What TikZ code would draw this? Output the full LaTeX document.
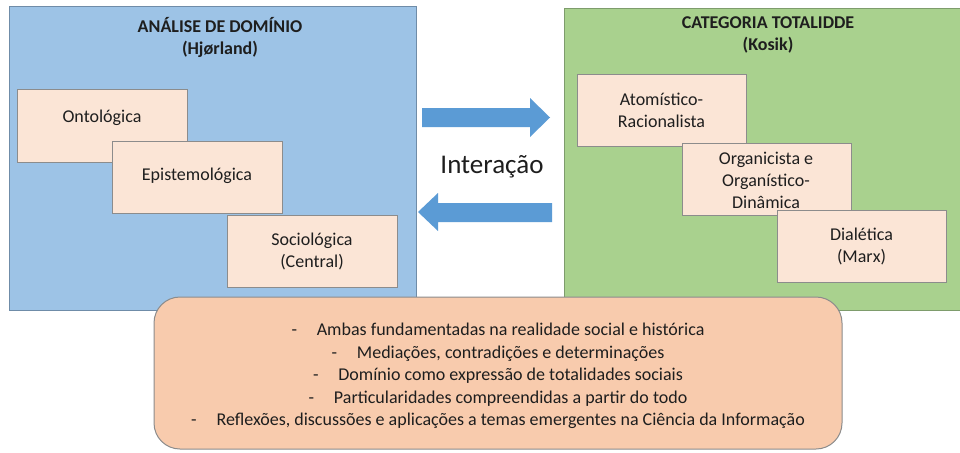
\documentclass[tikz,border=0pt]{standalone}
\usepackage{fontspec}
\setmainfont{Carlito}
\usetikzlibrary{positioning}
\definecolor{bluebg}{HTML}{9DC3E6}
\definecolor{blueedge}{HTML}{6F8CA8}
\definecolor{greenbg}{HTML}{A9D18E}
\definecolor{greenedge}{HTML}{7E9C6C}
\definecolor{innerbg}{HTML}{FBE5D6}
\definecolor{inneredge}{HTML}{8C8C8C}
\definecolor{bottombg}{HTML}{F8CBAD}
\definecolor{arrowblue}{HTML}{5B9BD5}
\definecolor{txt}{HTML}{1E1E1E}
\begin{document}
\begin{tikzpicture}[x=1pt,y=-1pt,
  panelbox/.style={draw, line width=1pt, inner sep=0pt},
  innerbox/.style={draw=inneredge, fill=innerbg, line width=1pt, inner sep=0pt},
  boxtext/.style={text=txt, align=center, font=\fontsize{18}{22}\selectfont, inner sep=0pt},
  titletext/.style={text=txt, align=center, font=\fontsize{18}{22}\selectfont\bfseries, inner sep=0pt},
  blockarrow/.style={fill=arrowblue, draw=none}]
\useasboundingbox (0,0) rectangle (960,452);
\fill[white] (0,0) rectangle (960,452);

% left panel
\node[panelbox, draw=blueedge, fill=bluebg, minimum width=407pt, minimum height=303pt] (left) at (212.5,158.5) {};
\node[titletext] (lefttitle) at (220,37) {ANÁLISE DE DOMÍNIO\\(Hjørland)};

% right panel
\node[panelbox, draw=greenedge, fill=greenbg, minimum width=400pt, minimum height=301pt] (right) at (764,159.5) {};
\node[titletext] (righttitle) at (768,35) {CATEGORIA TOTALIDDE\\(Kosik)};

% left inner boxes
\node[innerbox, minimum width=170pt, minimum height=73pt] (onto) at (102,125.5) {};
\node[boxtext] (ontotext) at (102,118) {Ontológica};
\node[innerbox, minimum width=170pt, minimum height=72pt] (epist) at (197,177) {};
\node[boxtext] (episttext) at (197,176) {Epistemológica};
\node[innerbox, minimum width=170pt, minimum height=72pt] (socio) at (312,251) {};
\node[boxtext] (sociotext) at (312,251.5) {Sociológica\\(Central)};

% right inner boxes
\node[innerbox, minimum width=169pt, minimum height=72pt] (atom) at (661.5,110) {};
\node[boxtext] (atomtext) at (661.5,110) {Atomístico-\\Racionalista};
\node[innerbox, minimum width=169pt, minimum height=72pt] (organ) at (766.5,179) {};
\node[boxtext] (organtext) at (766,180) {Organicista e\\Organístico-\\Dinâmica};
\node[innerbox, minimum width=169pt, minimum height=72pt] (dial) at (861.5,246) {};
\node[boxtext] (dialtext) at (861.5,246) {Dialética\\(Marx)};

% interaction arrows
\fill[blockarrow] (422,108) -- (530,108) -- (530,98) -- (550,117.5) -- (530,137) -- (530,127) -- (422,127) -- cycle;
\fill[blockarrow] (552,203) -- (438,203) -- (438,193) -- (418,212) -- (438,231) -- (438,222) -- (552,222) -- cycle;
\node[text=txt, font=\fontsize{27}{30}\selectfont, inner sep=0pt] (inter) at (492,167) {Interação};

% bottom box
\node[draw=inneredge, fill=bottombg, line width=1pt, rounded corners=26pt, minimum width=688pt, minimum height=152pt, inner sep=0pt] (summary) at (498,373) {};
\node[text=txt, align=center, font=\fontsize{18}{22.5}\selectfont, inner sep=0pt] (summarytext) at (498,376)
{-\hspace{1.1em}Ambas fundamentadas na realidade social e histórica\\
-\hspace{1.1em}Mediações, contradições e determinações\\
-\hspace{1.1em}Domínio como expressão de totalidades sociais\\
-\hspace{1.1em}Particularidades compreendidas a partir do todo\\
-\hspace{1.1em}Reflexões, discussões e aplicações a temas emergentes na Ciência da Informação};
\end{tikzpicture}
\end{document}
